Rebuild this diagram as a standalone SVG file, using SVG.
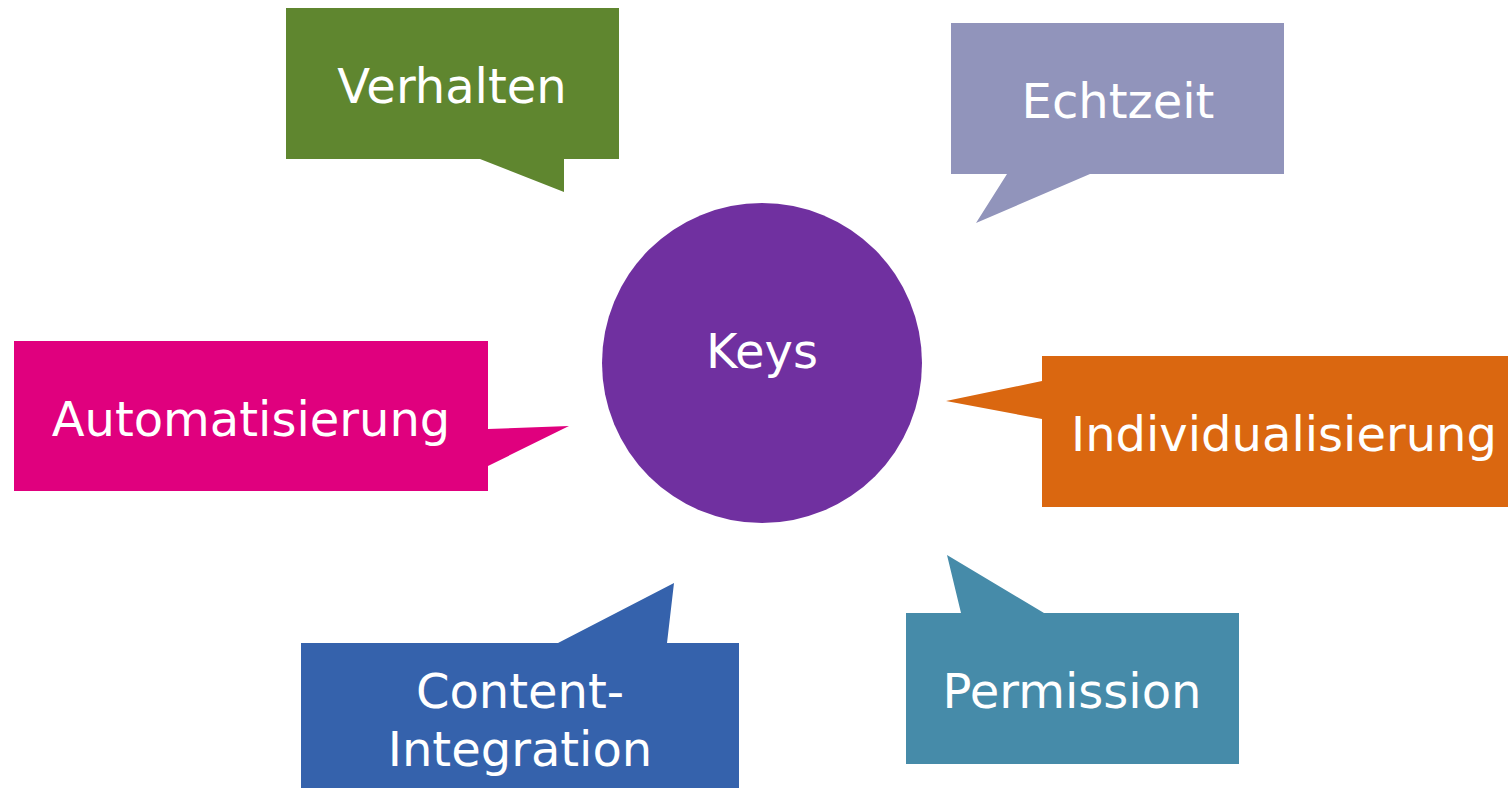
<svg xmlns="http://www.w3.org/2000/svg" width="1508" height="788" viewBox="0 0 1508 788">
  <style>
    .label { font-family: "DejaVu Sans", Verdana, sans-serif; font-size: 48px; fill: #ffffff; text-anchor: middle; }
  </style>
  <rect width="1508" height="788" fill="#ffffff"/>

  <!-- central hub -->
  <g id="keys">
    <circle cx="762" cy="363" r="160" fill="#7030A0"/>
    <text class="label" x="762" y="368">Keys</text>
  </g>

  <!-- speech-bubble callouts; each tail points toward the hub -->
  <g id="verhalten">
    <polygon points="286,8 619,8 619,159 564,159 564,192 480,159 286,159" fill="#5F862F"/>
    <text class="label" x="452" y="103">Verhalten</text>
  </g>

  <g id="echtzeit">
    <polygon points="951,23 1284,23 1284,174 1090,174 976,223 1007,174 951,174" fill="#9194BB"/>
    <text class="label" x="1118" y="118">Echtzeit</text>
  </g>

  <g id="automatisierung">
    <polygon points="14,341 488,341 488,429 569,426 488,466 488,491 14,491" fill="#E0007E"/>
    <text class="label" x="251" y="436">Automatisierung</text>
  </g>

  <g id="individualisierung">
    <polygon points="1042,356 1508,356 1508,507 1042,507 1042,419 946,401 1042,381" fill="#DA6710"/>
    <text class="label" x="1284" y="451">Individualisierung</text>
  </g>

  <g id="content-integration">
    <polygon points="301,643 558,643 674,583 667,643 739,643 739,788 301,788" fill="#3562AC"/>
    <text class="label" x="520" y="708">Content-</text>
    <text class="label" x="520" y="766">Integration</text>
  </g>

  <g id="permission">
    <polygon points="906,613 961,613 947,555 1044,613 1239,613 1239,764 906,764" fill="#468BA9"/>
    <text class="label" x="1072" y="708">Permission</text>
  </g>

  <g id="connectors"></g>
</svg>
